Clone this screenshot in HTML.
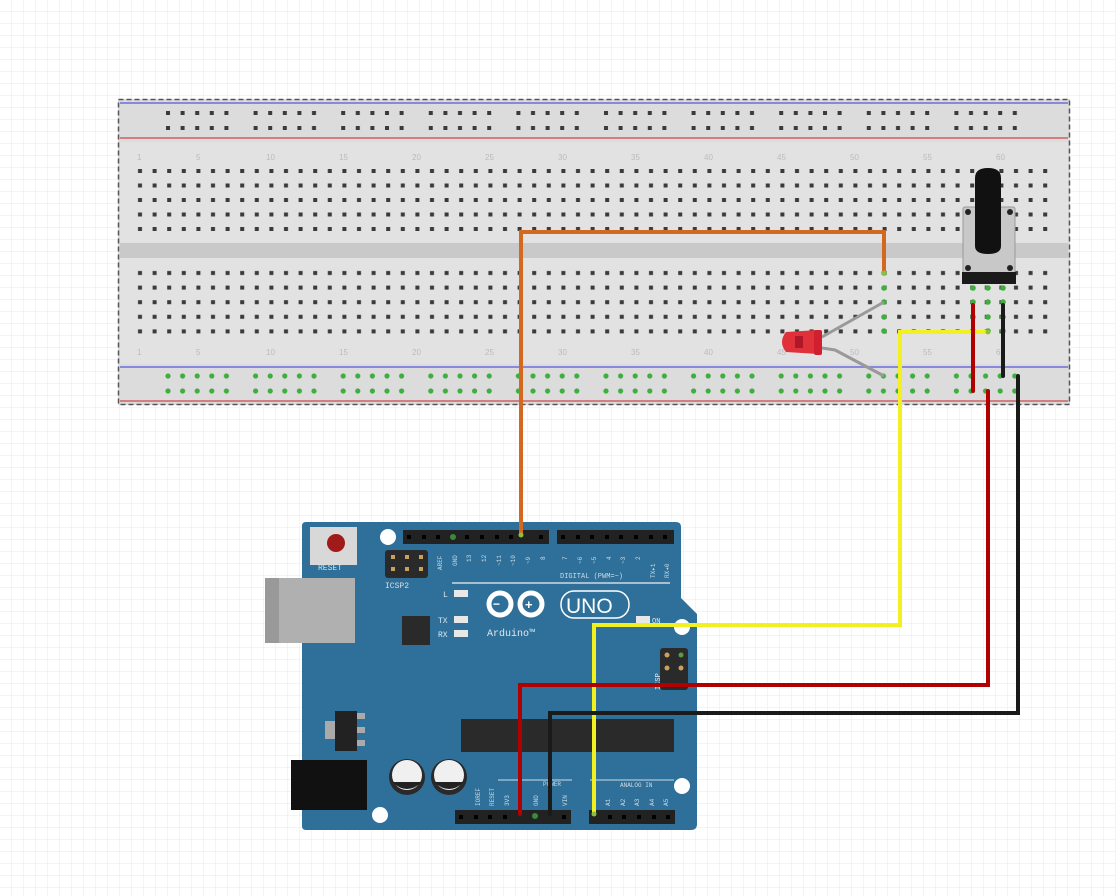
<!DOCTYPE html>
<html><head><meta charset="utf-8"><style>
html,body{margin:0;padding:0;background:#fff;}
svg{display:block;font-family:"Liberation Mono",monospace;}
</style></head><body>
<svg width="1116" height="896" viewBox="0 0 1116 896" xmlns="http://www.w3.org/2000/svg">
<defs>
<pattern id="grid" x="0" y="0" width="12" height="12" patternUnits="userSpaceOnUse">
<path d="M12 0V12H0" fill="none" stroke="#e6ebf0" stroke-width="1"/>
</pattern>
<pattern id="holes" x="133" y="164" width="14.6" height="14.5" patternUnits="userSpaceOnUse">
<rect x="5" y="5" width="4" height="4" fill="#3a3a3a"/>
</pattern>
<pattern id="holesB" x="133" y="266" width="14.6" height="14.6" patternUnits="userSpaceOnUse">
<rect x="5" y="5" width="4" height="4" fill="#3a3a3a"/>
</pattern>
<pattern id="rail" x="161" y="106" width="87.6" height="15" patternUnits="userSpaceOnUse">
<g fill="#3a3a3a"><rect x="5" y="5" width="4" height="4"/><rect x="19.6" y="5" width="4" height="4"/><rect x="34.2" y="5" width="4" height="4"/><rect x="48.8" y="5" width="4" height="4"/><rect x="63.4" y="5" width="4" height="4"/></g>
</pattern>
<pattern id="railG" x="161" y="369" width="87.6" height="15" patternUnits="userSpaceOnUse">
<g fill="#3fae3f"><circle cx="7" cy="7" r="2.6"/><circle cx="21.6" cy="7" r="2.6"/><circle cx="36.2" cy="7" r="2.6"/><circle cx="50.8" cy="7" r="2.6"/><circle cx="65.4" cy="7" r="2.6"/></g>
</pattern>
</defs>
<rect width="1116" height="896" fill="url(#grid)"/>

<!-- breadboard -->
<rect x="118" y="99" width="952" height="306" fill="#dcdcdc"/>
<rect x="120" y="142" width="948" height="222" fill="#e2e2e2"/>
<rect x="120" y="243" width="948" height="15" fill="#c9c9c9"/>
<line x1="120" y1="103" x2="1068" y2="103" stroke="#8888dd" stroke-width="2"/>
<line x1="120" y1="138" x2="1068" y2="138" stroke="#d06060" stroke-width="1.5"/>
<line x1="120" y1="367" x2="1068" y2="367" stroke="#8888dd" stroke-width="2"/>
<line x1="120" y1="401" x2="1068" y2="401" stroke="#d06060" stroke-width="1.5"/>
<rect x="161" y="106" width="876" height="30" fill="url(#rail)"/>
<rect x="133" y="164" width="920" height="72" fill="url(#holes)"/>
<rect x="133" y="266" width="920" height="72" fill="url(#holesB)"/>
<rect x="161" y="369" width="876" height="30" fill="url(#railG)"/>
<rect x="118.5" y="99.5" width="951" height="305" fill="none" stroke="#555" stroke-width="1.5" stroke-dasharray="5,3"/>
<g fill="#bbb" font-size="8" font-family="Liberation Sans,sans-serif">
<text x="137" y="160">1</text><text x="196" y="160">5</text><text x="266" y="160">10</text><text x="339" y="160">15</text><text x="412" y="160">20</text><text x="485" y="160">25</text><text x="558" y="160">30</text><text x="631" y="160">35</text><text x="704" y="160">40</text><text x="777" y="160">45</text><text x="850" y="160">50</text><text x="923" y="160">55</text><text x="996" y="160">60</text>
<text x="137" y="355">1</text><text x="196" y="355">5</text><text x="266" y="355">10</text><text x="339" y="355">15</text><text x="412" y="355">20</text><text x="485" y="355">25</text><text x="558" y="355">30</text><text x="631" y="355">35</text><text x="704" y="355">40</text><text x="777" y="355">45</text><text x="850" y="355">50</text><text x="923" y="355">55</text><text x="996" y="355">60</text>
</g>

<!-- green connected holes -->
<g fill="#3fae3f">
<circle cx="884" cy="273" r="2.8"/><circle cx="884" cy="288" r="2.8"/><circle cx="884" cy="302" r="2.8"/><circle cx="884" cy="317" r="2.8"/><circle cx="884" cy="331" r="2.8"/>
<circle cx="973" cy="288" r="2.8"/><circle cx="973" cy="302" r="2.8"/><circle cx="973" cy="317" r="2.8"/><circle cx="973" cy="331" r="2.8"/>
<circle cx="988" cy="288" r="2.8"/><circle cx="988" cy="302" r="2.8"/><circle cx="988" cy="317" r="2.8"/><circle cx="988" cy="331" r="2.8"/>
<circle cx="1003" cy="288" r="2.8"/><circle cx="1003" cy="302" r="2.8"/><circle cx="1003" cy="317" r="2.8"/><circle cx="1003" cy="331" r="2.8"/>
</g>

<!-- potentiometer -->
<rect x="963" y="207" width="52" height="70" rx="2" fill="#c8c8c8" stroke="#999"/>
<rect x="962" y="272" width="54" height="12" fill="#1a1a1a"/>
<circle cx="968" cy="212" r="3" fill="#222"/><circle cx="1010" cy="212" r="3" fill="#222"/>
<circle cx="968" cy="268" r="3" fill="#222"/><circle cx="1010" cy="268" r="3" fill="#222"/>
<path d="M975 178 Q975 168 988 168 Q1001 168 1001 178 L1001 246 Q1001 254 988 254 Q975 254 975 246 Z" fill="#111"/>

<!-- LED -->
<path d="M822 337 L884 302" stroke="#999" stroke-width="3" fill="none"/>
<path d="M822 348 L835 350 L884 376" stroke="#999" stroke-width="3" fill="none"/>
<path d="M786 332 Q778 342 786 352 L818 354 Q824 343 818 330 Z" fill="#e0303a"/>
<rect x="814" y="330" width="8" height="25" rx="2" fill="#d02030"/>
<rect x="795" y="336" width="8" height="12" fill="#b01828"/>

<!-- Arduino board -->
<path d="M306 522 L676 522 Q681 522 681 527 L681 598 L697 614 L697 824 Q697 830 691 830 L306 830 Q302 830 302 826 L302 526 Q302 522 306 522 Z" fill="#2e7099"/>
<rect x="265" y="578" width="90" height="65" fill="#b0b0b0"/><rect x="265" y="578" width="14" height="65" fill="#999"/>
<rect x="310" y="527" width="47" height="38" fill="#d8d8d8"/><circle cx="336" cy="543" r="9" fill="#a01a1a"/>
<text x="318" y="570" font-size="8" fill="#ddd">RESET</text>
<rect x="385" y="550" width="43" height="28" rx="3" fill="#2a2a2a"/>
<g fill="#c8a060"><rect x="391" y="555" width="4" height="4"/><rect x="405" y="555" width="4" height="4"/><rect x="419" y="555" width="4" height="4"/><rect x="391" y="567" width="4" height="4"/><rect x="405" y="567" width="4" height="4"/><rect x="419" y="567" width="4" height="4"/></g>
<text x="385" y="588" font-size="8" fill="#ddd">ICSP2</text>
<circle cx="388" cy="537" r="8" fill="#fff"/><circle cx="682" cy="627" r="8" fill="#fff"/><circle cx="682" cy="786" r="8" fill="#fff"/><circle cx="380" cy="815" r="8" fill="#fff"/>
<!-- top headers -->
<rect x="403" y="530" width="146" height="14" fill="#222"/>
<rect x="557" y="530" width="117" height="14" fill="#222"/>
<g fill="#000"><rect x="407" y="535" width="4" height="4"/><rect x="422" y="535" width="4" height="4"/><rect x="436" y="535" width="4" height="4"/><rect x="465" y="535" width="4" height="4"/><rect x="480" y="535" width="4" height="4"/><rect x="495" y="535" width="4" height="4"/><rect x="509" y="535" width="4" height="4"/><rect x="539" y="535" width="4" height="4"/>
<rect x="561" y="535" width="4" height="4"/><rect x="576" y="535" width="4" height="4"/><rect x="590" y="535" width="4" height="4"/><rect x="605" y="535" width="4" height="4"/><rect x="619" y="535" width="4" height="4"/><rect x="634" y="535" width="4" height="4"/><rect x="649" y="535" width="4" height="4"/><rect x="663" y="535" width="4" height="4"/></g>
<circle cx="453" cy="537" r="3" fill="#3a8a3a"/>
<g fill="#cfdbe4" font-size="6">
<text transform="translate(442,570) rotate(-90)">AREF</text><text transform="translate(457,566) rotate(-90)">GND</text><text transform="translate(471,562) rotate(-90)">13</text><text transform="translate(486,562) rotate(-90)">12</text><text transform="translate(501,566) rotate(-90)">~11</text><text transform="translate(515,566) rotate(-90)">~10</text><text transform="translate(530,564) rotate(-90)">~9</text><text transform="translate(545,560) rotate(-90)">8</text>
<text transform="translate(567,560) rotate(-90)">7</text><text transform="translate(582,564) rotate(-90)">~6</text><text transform="translate(596,564) rotate(-90)">~5</text><text transform="translate(611,560) rotate(-90)">4</text><text transform="translate(625,564) rotate(-90)">~3</text><text transform="translate(640,560) rotate(-90)">2</text><text transform="translate(655,578) rotate(-90)">TX▸1</text><text transform="translate(669,578) rotate(-90)">RX◂0</text>
</g>
<text x="560" y="578" font-size="7" fill="#cfdbe4">DIGITAL (PWM=~)</text>
<line x1="452" y1="583" x2="670" y2="583" stroke="#cfdbe4" stroke-width="1.5"/>
<!-- logo -->
<g fill="none" stroke="#fff" stroke-width="5"><circle cx="500" cy="604" r="11"/><circle cx="531" cy="604" r="11"/></g>
<text x="493" y="608" font-size="12" fill="#fff" font-family="Liberation Sans,sans-serif" font-weight="bold">−</text>
<text x="525" y="609" font-size="13" fill="#fff" font-family="Liberation Sans,sans-serif" font-weight="bold">+</text>
<rect x="561" y="591" width="68" height="27" rx="13" fill="none" stroke="#fff" stroke-width="1.5"/>
<text x="566" y="613" font-size="21" fill="#fff" font-family="Liberation Sans,sans-serif">UNO</text>
<text x="487" y="636" font-size="10" fill="#dfe8ee">Arduino™</text>
<text x="443" y="597" font-size="8" fill="#dfe8ee">L</text><rect x="454" y="590" width="14" height="7" fill="#e8e8e8"/>
<text x="438" y="623" font-size="8" fill="#dfe8ee">TX</text><rect x="454" y="616" width="14" height="7" fill="#e8e8e8"/>
<text x="438" y="637" font-size="8" fill="#dfe8ee">RX</text><rect x="454" y="630" width="14" height="7" fill="#e8e8e8"/>
<rect x="402" y="616" width="28" height="29" fill="#2a2a2a"/>
<rect x="636" y="616" width="14" height="7" fill="#e8e8e8"/><text x="652" y="623" font-size="7" fill="#dfe8ee">ON</text>
<rect x="660" y="648" width="28" height="42" rx="3" fill="#2a2a2a"/>
<circle cx="667" cy="655" r="2.5" fill="#c8a060"/><circle cx="681" cy="655" r="2.5" fill="#5a9a4a"/><circle cx="667" cy="668" r="2.5" fill="#c8a060"/><circle cx="681" cy="668" r="2.5" fill="#c8a060"/>
<text transform="translate(660,690) rotate(-90)" font-size="7" fill="#dfe8ee">ICSP</text>
<rect x="461" y="719" width="213" height="33" fill="#2a2a2a"/>
<rect x="325" y="721" width="10" height="18" fill="#aaa"/><rect x="335" y="711" width="22" height="40" fill="#222"/><g fill="#aaa"><rect x="357" y="713" width="8" height="6"/><rect x="357" y="727" width="8" height="6"/><rect x="357" y="740" width="8" height="6"/></g>
<rect x="291" y="760" width="76" height="50" fill="#111"/>
<circle cx="407" cy="777" r="18" fill="#2a2a2a"/><circle cx="407" cy="775" r="15" fill="#f0f0f0"/><path d="M392 782 Q407 796 422 782 Z" fill="#222"/>
<circle cx="449" cy="777" r="18" fill="#2a2a2a"/><circle cx="449" cy="775" r="15" fill="#f0f0f0"/><path d="M434 782 Q449 796 464 782 Z" fill="#222"/>
<line x1="498" y1="780" x2="572" y2="780" stroke="#cfdbe4"/><line x1="590" y1="780" x2="674" y2="780" stroke="#cfdbe4"/>
<text x="543" y="786" font-size="6" fill="#cfdbe4">POWER</text><text x="620" y="787" font-size="6" fill="#cfdbe4">ANALOG IN</text>
<g fill="#cfdbe4" font-size="6">
<text transform="translate(480,806) rotate(-90)">IOREF</text><text transform="translate(494,806) rotate(-90)">RESET</text><text transform="translate(509,806) rotate(-90)">3V3</text><text transform="translate(538,806) rotate(-90)">GND</text><text transform="translate(567,806) rotate(-90)">VIN</text>
<text transform="translate(610,806) rotate(-90)">A1</text><text transform="translate(625,806) rotate(-90)">A2</text><text transform="translate(639,806) rotate(-90)">A3</text><text transform="translate(654,806) rotate(-90)">A4</text><text transform="translate(668,806) rotate(-90)">A5</text>
</g>
<rect x="455" y="810" width="116" height="14" fill="#222"/>
<rect x="589" y="810" width="86" height="14" fill="#222"/>
<g fill="#000"><rect x="459" y="815" width="4" height="4"/><rect x="474" y="815" width="4" height="4"/><rect x="488" y="815" width="4" height="4"/><rect x="503" y="815" width="4" height="4"/><rect x="562" y="815" width="4" height="4"/>
<rect x="608" y="815" width="4" height="4"/><rect x="622" y="815" width="4" height="4"/><rect x="637" y="815" width="4" height="4"/><rect x="652" y="815" width="4" height="4"/><rect x="666" y="815" width="4" height="4"/></g>
<circle cx="535" cy="816" r="3" fill="#3a8a3a"/>

<!-- wires -->
<g fill="none" stroke-linejoin="miter" stroke-linecap="round" stroke-width="4">
<path d="M884 273 L884 232 L521 232 L521 535" stroke="#d2691e"/>
<path d="M988 332 L900 332 L900 625 L594 625 L594 814" stroke="#f2f020"/>
<path d="M988 391 L988 685 L520 685 L520 814" stroke="#b00000"/>
<path d="M1018 376 L1018 713 L550 713 L550 814" stroke="#1a1a1a"/>
<path d="M973 305 L973 391" stroke="#b00000"/>
<path d="M1003 305 L1003 376" stroke="#1a1a1a"/>
</g>
<g fill="#8ac040"><circle cx="884" cy="273" r="2.5"/><circle cx="521" cy="535" r="2.5"/><circle cx="594" cy="814" r="2.5"/><circle cx="988" cy="332" r="2.5"/></g>
</svg>
</body></html>
